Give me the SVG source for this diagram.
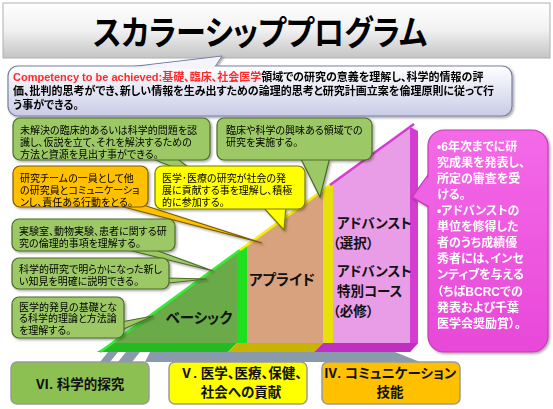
<svg xmlns="http://www.w3.org/2000/svg" width="553" height="409" viewBox="0 0 553 409">
<defs>
<linearGradient id="gTitle" x1="0" y1="0" x2="0" y2="1"><stop offset="0" stop-color="#ffffff"/><stop offset="0.5" stop-color="#f0f0f0"/><stop offset="1" stop-color="#c4c4c4"/></linearGradient>
<linearGradient id="gComp" x1="0" y1="0" x2="0" y2="1"><stop offset="0" stop-color="#ffffff"/><stop offset="1" stop-color="#c9cbe6"/></linearGradient>
<linearGradient id="gPink" x1="0" y1="0" x2="0" y2="1"><stop offset="0" stop-color="#f46ae8"/><stop offset="1" stop-color="#e848d8"/></linearGradient>
<filter id="sh" x="-10%" y="-10%" width="130%" height="140%"><feDropShadow dx="1.5" dy="1.5" stdDeviation="1" flood-color="#000" flood-opacity="0.35"/></filter>
</defs>
<style>
.jp{font-family:"Liberation Sans","Noto Sans CJK JP",sans-serif;font-feature-settings:"palt";}
.bt{font-size:10px;fill:#000;}
.ct{font-size:11px;font-weight:bold;fill:#000;}
.red{fill:#ff2a2a;}
.lbl{font-size:14.5px;font-weight:bold;fill:#111;}
.adv{font-size:13.5px;}
.bot{font-size:13.5px;font-weight:bold;fill:#111;}
.pt{font-size:12px;font-weight:bold;fill:#fff;}
.gb{fill:#9dc866;stroke:#4d6a2a;stroke-width:1.2;}
.ob{fill:#ffc000;stroke:#7a5c00;stroke-width:1.2;}
.yb{fill:#ffff00;stroke:#7a7a00;stroke-width:1.2;}
.pb{fill:url(#gPink);stroke:#c43cb4;stroke-width:1.2;}
.shd{fill:#8a9aad;}
.lb{stroke:#9a9a9a;stroke-width:1.5;}
</style>

<g id="title">
<rect x="3" y="3" width="547" height="55" fill="url(#gTitle)" stroke="#b0b0b0" stroke-width="1"/>
<text class="jp" x="93" y="45" textLength="334" lengthAdjust="spacingAndGlyphs" font-size="34" font-weight="bold" fill="#000">スカラーシッププログラム</text>
</g>

<g id="competency" filter="url(#sh)">
<polygon points="120,68 222,56 214,68" fill="#f4f4fa" stroke="#7880a0" stroke-width="1"/>
<rect x="8" y="66" width="504" height="50" rx="10" fill="url(#gComp)" stroke="#7880a0" stroke-width="1.2"/>
<polygon points="121,68.5 220,57.5 213,69" fill="#f4f4fa"/>
<text class="jp ct" x="13" y="81"><tspan class="red">Competency to be achieved:</tspan><tspan class="red">基礎、臨床、社会医学</tspan>領域での研究の意義を理解し、科学的情報の評</text>
<text class="jp ct" x="13" y="95">価、批判的思考ができ、新しい情報を生み出すための論理的思考と研究計画立案を倫理原則に従って行</text>
<text class="jp ct" x="13" y="109">う事ができる。</text>
</g>

<g id="staircase">
<polygon points="112.6,343 237,343 237,252.6" fill="#6aaa48"/>
<polygon points="237,252.6 247,245.3 247,343 237,343" fill="#1ee01e"/>
<polygon points="247,245.3 323,190 323,343 247,343" fill="#d9a27e"/>
<polygon points="323,190 333,182.8 333,343 323,343" fill="#e8e00c"/>
<polygon points="333,182.8 410,126.8 410,343 333,343" fill="#e99de6"/>
<polygon points="410,126.8 418,131 418,343 410,352" fill="#d43cd2"/>
<polygon points="112.6,343 237,343 228,352 97,352" fill="#22bb22"/>
<polygon points="237,343 323,343 314,352 228,352" fill="#c8b400"/>
<polygon points="323,343 418,343 410,352 314,352" fill="#c030c0"/>
<line x1="100" y1="352" x2="240" y2="250" stroke="#33ee33" stroke-width="2.5"/>
<line x1="240" y1="250" x2="330" y2="185" stroke="#f4f000" stroke-width="2.5"/>
<line x1="330" y1="185" x2="414" y2="124" stroke="#d43cd2" stroke-width="2.5"/>
<text class="jp lbl" x="199" y="323" text-anchor="middle">ベーシック</text>
<text class="jp lbl" x="282" y="285" text-anchor="middle">アプライド</text>
<text class="jp lbl adv" x="337" y="228">アドバンスト</text>
<text class="jp lbl adv" x="333" y="248">（選択）</text>
<text class="jp lbl adv" x="337" y="276">アドバンスト</text>
<text class="jp lbl adv" x="337" y="296">特別コース</text>
<text class="jp lbl adv" x="333" y="316">（必修）</text>
</g>

<g id="connectors">
<polygon class="shd" points="100,362 108,352 118,352 110,362"/>
<polygon class="shd" points="118,362 126,352 140,352 132,362"/>
<polygon class="shd" points="145,362 150,352 365,352 370,362"/>
<polygon class="shd" points="330,362 335,352 395,352 420,362"/>
</g>

<g id="label-vi">
<rect class="lb" x="11" y="362" width="138" height="42" rx="6" fill="#8dc053"/>
<text class="jp bot" x="80" y="389" text-anchor="middle">Ⅵ. 科学的探究</text>
</g>
<g id="label-v">
<rect class="lb" x="169" y="362" width="138" height="42" rx="6" fill="#ffff00"/>
<text class="jp bot" x="241" y="378" text-anchor="middle">Ⅴ. 医学、医療、保健、</text>
<text class="jp bot" x="241" y="397" text-anchor="middle">社会への貢献</text>
</g>
<g id="label-iv">
<rect class="lb" x="322" y="362" width="138" height="42" rx="6" fill="#ffc000"/>
<text class="jp bot" x="390" y="378" text-anchor="middle">Ⅳ. コミュニケーション</text>
<text class="jp bot" x="390" y="397" text-anchor="middle">技能</text>
</g>

<g id="callout-1" filter="url(#sh)">
<polygon class="gb" points="148,157 175,157 205,180"/>
<rect class="gb" x="13" y="118" width="197" height="42" rx="7"/>
<text class="jp bt" x="20" y="134">未解決の臨床的あるいは科学的問題を認</text>
<text class="jp bt" x="20" y="146">識し、仮説を立て、それを解決するための</text>
<text class="jp bt" x="20" y="158">方法と資源を見出す事ができる。</text>
</g>
<g id="callout-2" filter="url(#sh)">
<polygon class="gb" points="300,157 330,157 320,197"/>
<rect class="gb" x="217" y="118" width="155" height="42" rx="7"/>
<text class="jp bt" x="226" y="134">臨床や科学の興味ある領域での</text>
<text class="jp bt" x="226" y="146">研究を実施する。</text>
</g>
<g id="callout-3" filter="url(#sh)">
<polygon class="ob" points="112,204 140,204 262,243"/>
<rect class="ob" x="13" y="166" width="135" height="41" rx="7"/>
<text class="jp bt" x="20" y="182">研究チームの一員として他</text>
<text class="jp bt" x="20" y="194">の研究員とコミュニケーショ</text>
<text class="jp bt" x="20" y="206">ンし、責任ある行動をとる。</text>
</g>
<g id="callout-4" filter="url(#sh)">
<polygon class="yb" points="262,206 286,206 284,230"/>
<rect class="yb" x="155" y="166" width="150" height="43" rx="7"/>
<text class="jp bt" x="162" y="182">医学･医療の研究が社会の発</text>
<text class="jp bt" x="162" y="194">展に貢献する事を理解し、積極</text>
<text class="jp bt" x="162" y="206">的に参加する。</text>
</g>
<g id="callout-5" filter="url(#sh)">
<polygon class="gb" points="120,248 150,248 213,271"/>
<rect class="gb" x="12" y="219" width="163" height="32" rx="7"/>
<text class="jp bt" x="19" y="235">実験室、動物実験、患者に関する研</text>
<text class="jp bt" x="19" y="247">究の倫理的事項を理解する。</text>
</g>
<g id="callout-6" filter="url(#sh)">
<polygon class="gb" points="140,286 166,278 207,279"/>
<rect class="gb" x="12" y="258" width="157" height="31" rx="7"/>
<text class="jp bt" x="19" y="273">科学的研究で明らかになった新し</text>
<text class="jp bt" x="19" y="285">い知見を明確に説明できる。</text>
</g>
<g id="callout-7" filter="url(#sh)">
<polygon class="gb" points="108,336 121,322 153,316"/>
<rect class="gb" x="12" y="297" width="112" height="41" rx="7"/>
<text class="jp bt" x="19" y="311">医学的発見の基礎とな</text>
<text class="jp bt" x="19" y="322">る科学的理論と方法論</text>
<text class="jp bt" x="19" y="334">を理解する。</text>
</g>

<g id="callout-pink" filter="url(#sh)">
<polygon class="pb" points="433,168 433,210 412,197"/>
<rect class="pb" x="428" y="130" width="120" height="222" rx="16"/>
<polygon points="434,169.5 434,208.5 414,197" fill="#f062e4"/>
<g class="jp pt">
<text x="437" y="151">•6年次までに研</text>
<text x="437" y="167">究成果を発表し、</text>
<text x="437" y="183">所定の審査を受</text>
<text x="437" y="199">ける。</text>
<text x="437" y="215">•アドバンストの</text>
<text x="437" y="231">単位を修得した</text>
<text x="437" y="247">者のうち成績優</text>
<text x="437" y="263">秀者には、インセ</text>
<text x="437" y="279">ンティブを与える</text>
<text x="437" y="296">（ちばBCRCでの</text>
<text x="437" y="312">発表および千葉</text>
<text x="437" y="328">医学会奨励賞）。</text>
</g>
</g>
</svg>
